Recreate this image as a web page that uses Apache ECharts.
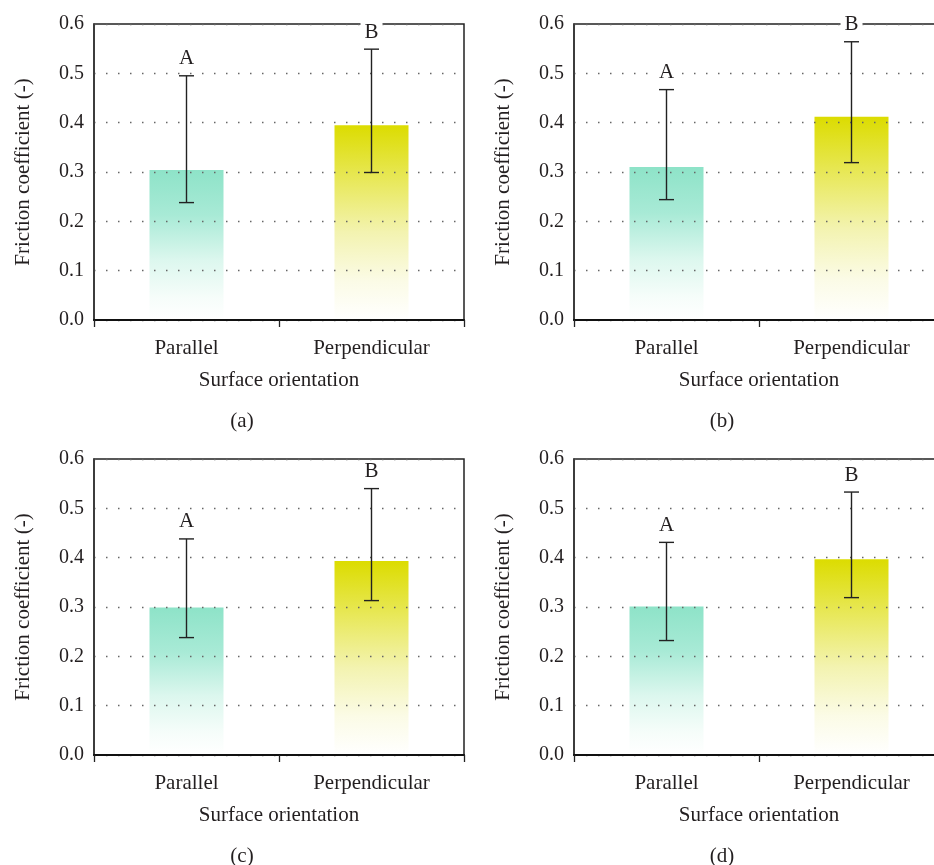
<!DOCTYPE html>
<html>
<head>
<meta charset="utf-8">
<script src="https://cdn.jsdelivr.net/npm/echarts@6/dist/echarts.min.js"></script>
<style>
html,body{margin:0;padding:0;background:#fff;overflow:hidden;width:934px;height:865px;}
#chart{width:960px;height:865px;}
</style>
</head>
<body>
<div id="chart"></div>
<script>
// ---- data ----
const categories = ['Parallel', 'Perpendicular'];
const letters = ['A', 'B'];
const panelLabels = ['(a)', '(b)', '(c)', '(d)'];

const meanA = [0.304, 0.395];
const hiA   = [0.495, 0.549];
const loA   = [0.238, 0.299];

const meanB = [0.310, 0.412];
const hiB   = [0.467, 0.564];
const loB   = [0.244, 0.319];

const meanC = [0.299, 0.393];
const hiC   = [0.438, 0.540];
const loC   = [0.238, 0.313];

const meanD = [0.301, 0.397];
const hiD   = [0.431, 0.533];
const loD   = [0.232, 0.319];

const yMin = 0, yMax = 0.6, yInterval = 0.1;
const yAxisTitle = 'Friction coefficient (-)';
const xAxisTitle = 'Surface orientation';

// ---- layout ----
const FONT = '"Liberation Serif", "Times New Roman", serif';
const TXT = '#231f20';
const panels = [
  {mean: meanA, hi: hiA, lo: loA, left: 94,  top: 24,  labelX: 237, labelY: 406},
  {mean: meanB, hi: hiB, lo: loB, left: 574, top: 24,  labelX: 717, labelY: 406},
  {mean: meanC, hi: hiC, lo: loC, left: 94,  top: 459, labelX: 237, labelY: 841},
  {mean: meanD, hi: hiD, lo: loD, left: 574, top: 459, labelX: 717, labelY: 841}
];
const GW = 370, GH = 296;

function grad(stops) {
  return new echarts.graphic.LinearGradient(0, 0, 0, 1, stops);
}
const barColors = [
  grad([
    {offset: 0, color: '#8ee3c8'},
    {offset: 0.3, color: '#a8ead6'},
    {offset: 0.6, color: '#dcf7ee'},
    {offset: 0.85, color: '#f6fdfa'},
    {offset: 1, color: '#ffffff'}
  ]),
  grad([
    {offset: 0, color: '#dcdc00'},
    {offset: 0.3, color: '#e9e960'},
    {offset: 0.55, color: '#f3f3b0'},
    {offset: 0.8, color: '#fbfbe6'},
    {offset: 1, color: '#ffffff'}
  ])
];

const grids = [], xAxes = [], yAxes = [], series = [], titles = [];
panels.forEach((p, k) => {
  grids.push({left: p.left, top: p.top, width: GW, height: GH, show: true,
    borderColor: '#222', borderWidth: 1.5, backgroundColor: 'transparent', z: 0});
  xAxes.push({
    type: 'category', gridIndex: k, data: categories, z: 3,
    axisLine: {show: true, lineStyle: {color: '#111', width: 2.2}},
    axisTick: {show: true, length: 7, lineStyle: {color: '#222', width: 1.3}},
    axisLabel: {fontFamily: FONT, fontSize: 21, color: TXT, margin: 18},
    name: xAxisTitle, nameLocation: 'middle', nameGap: 50,
    nameTextStyle: {fontFamily: FONT, fontSize: 21, color: TXT},
    splitLine: {show: false}
  });
  yAxes.push({
    type: 'value', gridIndex: k, min: yMin, max: yMax, interval: yInterval, z: 3,
    axisLine: {show: true, lineStyle: {color: '#333', width: 1.5}},
    axisTick: {show: false},
    axisLabel: {fontFamily: FONT, fontSize: 20, color: TXT, margin: 10,
      formatter: v => v.toFixed(1)},
    splitLine: {show: true, lineStyle: {color: '#666', width: 1.4, type: [1.5, 10.5]}},
    name: yAxisTitle, nameLocation: 'middle', nameGap: 60,
    nameTextStyle: {fontFamily: FONT, fontSize: 21, color: TXT}
  });
  series.push({
    type: 'bar', xAxisIndex: k, yAxisIndex: k, barWidth: '40%', z: 1,
    data: p.mean.map((v, i) => ({value: v, itemStyle: {color: barColors[i]}})),
    silent: true
  });
  series.push({
    type: 'custom', xAxisIndex: k, yAxisIndex: k, z: 10, clip: false,
    data: categories.map((c, i) => [i, p.lo[i], p.hi[i]]),
    renderItem: function (params, api) {
      const idx = api.value(0);
      const top = api.coord([idx, api.value(2)]);
      const bot = api.coord([idx, api.value(1)]);
      const x = top[0];
      const hw = 7.5;
      const ls = {stroke: '#222', lineWidth: 1.4};
      return {
        type: 'group',
        children: [
          {type: 'line', shape: {x1: x, y1: top[1], x2: x, y2: bot[1]}, style: ls},
          {type: 'line', shape: {x1: x - hw, y1: top[1], x2: x + hw, y2: top[1]}, style: ls},
          {type: 'line', shape: {x1: x - hw, y1: bot[1], x2: x + hw, y2: bot[1]}, style: ls},
          {type: 'text', x: x, y: top[1] - 17,
            style: {text: letters[idx], textAlign: 'center', textVerticalAlign: 'middle',
              font: '21px ' + FONT, fill: TXT, backgroundColor: '#ffffff', padding: [0, 4]}}
        ]
      };
    }
  });
  titles.push({text: panelLabels[k], left: p.labelX, top: p.labelY, textAlign: 'center',
    textStyle: {fontFamily: FONT, fontSize: 21, fontWeight: 'normal', color: TXT}});
});

const chart = echarts.init(document.getElementById('chart'), null, {renderer: 'canvas'});
chart.setOption({
  animation: false,
  backgroundColor: '#ffffff',
  title: titles,
  grid: grids,
  xAxis: xAxes,
  yAxis: yAxes,
  series: series
});
</script>
</body>
</html>
